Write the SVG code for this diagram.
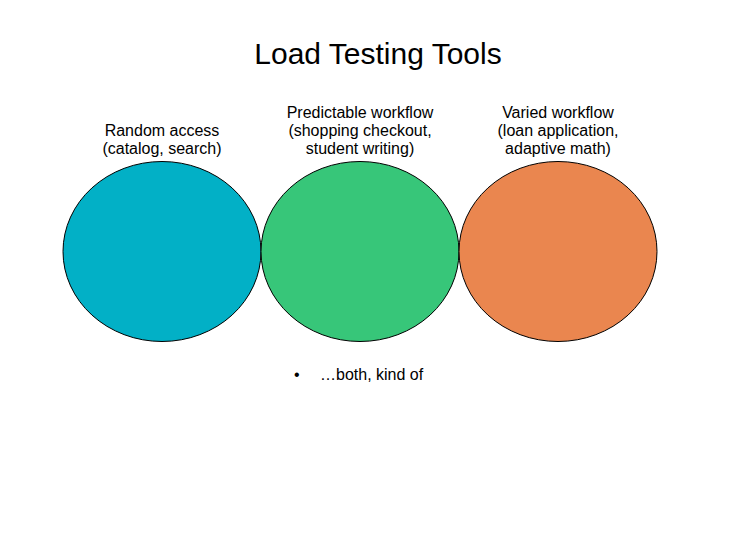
<svg xmlns="http://www.w3.org/2000/svg" width="756" height="553" viewBox="0 0 756 553">
<style>
text{font-family:"Liberation Sans",Arial,sans-serif;fill:#000}
.t{font-size:30px;text-anchor:middle}
.l{font-size:16px;text-anchor:middle}
.b{font-size:16px}
ellipse{stroke:#000;stroke-width:1}
</style>
<rect width="756" height="553" fill="#fff"/>
<text class="t" x="378" y="64">Load Testing Tools</text>
<g id="random">
<ellipse cx="162" cy="251.5" rx="99" ry="90" fill="#02b0c6"/>
<text class="l" x="162" y="136">Random access</text>
<text class="l" x="162" y="154">(catalog, search)</text>
</g>
<g id="predictable">
<ellipse cx="360" cy="251.5" rx="99" ry="90" fill="#37c679"/>
<text class="l" x="360" y="118">Predictable workflow</text>
<text class="l" x="360" y="136">(shopping checkout,</text>
<text class="l" x="360" y="154">student writing)</text>
</g>
<g id="varied">
<ellipse cx="558" cy="251.5" rx="99" ry="90" fill="#ea864f"/>
<text class="l" x="558" y="118">Varied workflow</text>
<text class="l" x="558" y="136">(loan application,</text>
<text class="l" x="558" y="154">adaptive math)</text>
</g>
<g id="connectors"/>
<text class="b" x="294" y="380">•</text>
<text class="b" x="320" y="380">…both, kind of</text>
</svg>
